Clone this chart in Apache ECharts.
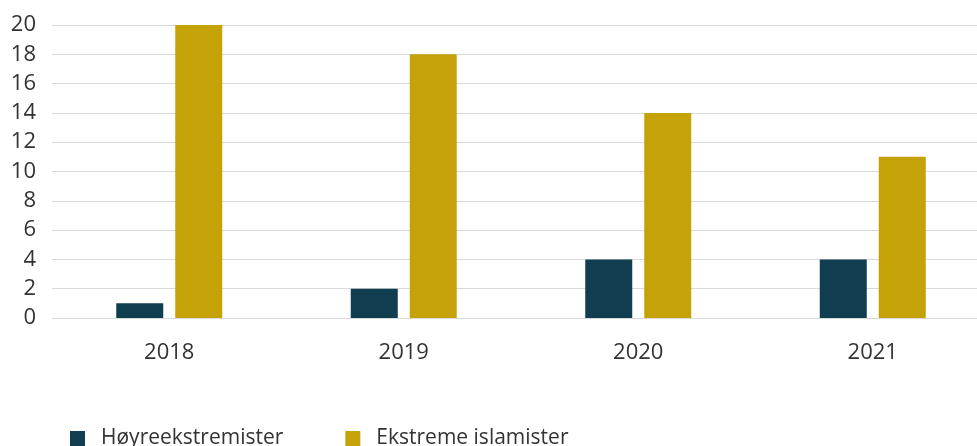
<!DOCTYPE html>
<html>
<head>
<meta charset="utf-8">
<script src="https://cdn.jsdelivr.net/npm/echarts@6/dist/echarts.min.js"></script>
<style>
  html, body { margin: 0; padding: 0; background: #fff; }
  #chart { width: 977px; height: 446px; }
</style>
</head>
<body>
<div id="chart"></div>
<script>
const years = ['2018', '2019', '2020', '2021']
const hoyre = [1, 2, 4, 4]
const islamister = [20, 18, 14, 11]
const yTicks = [0, 2, 4, 6, 8, 10, 12, 14, 16, 18, 20]

const chart = echarts.init(document.getElementById('chart'), null, { renderer: 'canvas' })

const font = '"Open Sans", "Noto Sans", sans-serif'

chart.setOption({
  backgroundColor: '#fff',
  animation: false,
  legend: {
    left: 65,
    top: 423,
    itemWidth: 15,
    itemHeight: 15,
    itemGap: 62,
    icon: 'rect',
    textStyle: { fontFamily: font, fontSize: 21, color: '#333', padding: [0, 0, 0, 11] },
    data: ['Høyreekstremister', 'Ekstreme islamister']
  },
  grid: {
    left: 52,
    top: 25,
    width: 938,
    height: 293,
    outerBoundsMode: 'none',
    containLabel: false
  },
  xAxis: {
    type: 'category',
    data: years,
    axisLine: { show: false },
    axisTick: { show: false },
    axisLabel: { fontFamily: font, fontSize: 22, color: '#333', margin: 24 }
  },
  yAxis: {
    type: 'value',
    min: yTicks[0],
    max: yTicks[yTicks.length - 1],
    interval: 2,
    axisLine: { show: false },
    axisTick: { show: false },
    axisLabel: { fontFamily: font, fontSize: 22, color: '#333', margin: 16 },
    splitLine: { lineStyle: { color: '#d9d9d9', width: 1 } }
  },
  series: [
    {
      name: 'Høyreekstremister',
      type: 'bar',
      data: hoyre,
      barWidth: 47,
      barGap: '25.5%',
      itemStyle: { color: '#103d4f' }
    },
    {
      name: 'Ekstreme islamister',
      type: 'bar',
      data: islamister,
      barWidth: 47,
      itemStyle: { color: '#c5a308' }
    }
  ]
})
</script>
</body>
</html>
